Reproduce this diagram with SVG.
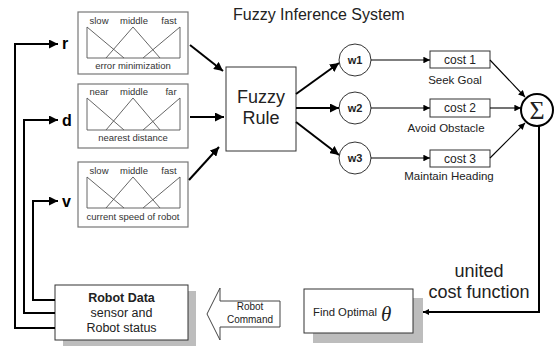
<svg xmlns="http://www.w3.org/2000/svg" width="555" height="347" viewBox="0 0 555 347">
  <defs>
    <marker id="headBig" viewBox="0 0 10 10" refX="10" refY="5" markerWidth="4.5" markerHeight="4.5" markerUnits="strokeWidth" orient="auto">
      <path d="M0,0 L10,5 L0,10 Z" fill="#000"/>
    </marker>
    <marker id="headThin" viewBox="0 0 10 10" refX="10" refY="5" markerWidth="7" markerHeight="6" markerUnits="strokeWidth" orient="auto">
      <path d="M0,0 L10,5 L0,10 Z" fill="#000"/>
    </marker>
    <marker id="headSmall" viewBox="0 0 10 10" refX="10" refY="5" markerWidth="3" markerHeight="3" markerUnits="strokeWidth" orient="auto">
      <path d="M0,0 L10,5 L0,10 Z" fill="#000"/>
    </marker>
  </defs>
  <style>
    text { font-family: "Liberation Sans", Arial, sans-serif; fill: #222; }
    .mf-box { fill: #fff; stroke: #777; stroke-width: 1.2; }
    .mf-line { fill: none; stroke: #555; stroke-width: 0.9; }
    .mf-lbl { font-size: 9.5px; fill: #333; text-anchor: middle; }
    .box { fill: #fff; stroke: #333; stroke-width: 1; }
    .shadow { fill: #bdbdbd; }
    .thick { fill: none; stroke: #000; stroke-width: 2; }
    .thin { fill: none; stroke: #000; stroke-width: 1.1; }
    .var { font-size: 16px; font-weight: bold; fill: #000; }
    .mid { text-anchor: middle; }
    .serif { font-family: "Liberation Serif", "Times New Roman", serif; }
  </style>

  <!-- title -->
  <text x="233" y="20" font-size="16">Fuzzy Inference System</text>

  <!-- membership function panels -->
  <g id="mf-error">
    <rect class="mf-box" x="78" y="12" width="110" height="62"/>
    <path class="mf-line" d="M87,27 V58 H180 V27 M87,27 L124,58 M106,58 L133,27 L160,58 M143,58 L180,27"/>
    <text class="mf-lbl" x="99" y="24">slow</text>
    <text class="mf-lbl" x="134" y="24">middle</text>
    <text class="mf-lbl" x="169" y="24">fast</text>
    <text class="mf-lbl" x="133" y="69">error minimization</text>
  </g>
  <g id="mf-distance">
    <rect class="mf-box" x="78" y="84" width="110" height="64"/>
    <path class="mf-line" d="M87,98 V130 H180 V98 M87,98 L124,130 M106,130 L133,98 L160,130 M143,130 L180,98"/>
    <text class="mf-lbl" x="99" y="95">near</text>
    <text class="mf-lbl" x="134" y="95">middle</text>
    <text class="mf-lbl" x="171" y="95">far</text>
    <text class="mf-lbl" x="133" y="141">nearest distance</text>
  </g>
  <g id="mf-speed">
    <rect class="mf-box" x="78" y="162" width="110" height="65"/>
    <path class="mf-line" d="M87,177 V208 H180 V177 M87,177 L124,208 M106,208 L133,177 L160,208 M143,208 L180,177"/>
    <text class="mf-lbl" x="99" y="174">slow</text>
    <text class="mf-lbl" x="134" y="174">middle</text>
    <text class="mf-lbl" x="169" y="174">fast</text>
    <text class="mf-lbl" x="133" y="220">current speed of robot</text>
  </g>

  <!-- input variable labels -->
  <g id="var-r"><text class="var" x="62" y="49">r</text></g>
  <g id="var-d"><text class="var" x="62" y="126">d</text></g>
  <g id="var-v"><text class="var" x="62" y="207">v</text></g>

  <!-- fuzzy rule block -->
  <g id="fuzzy-rule">
    <rect class="box" x="226" y="67" width="70" height="84"/>
    <text class="mid" x="261" y="103" font-size="18">Fuzzy</text>
    <text class="mid" x="261" y="124" font-size="18">Rule</text>
  </g>

  <!-- weights -->
  <g id="w1">
    <circle cx="355" cy="60" r="16" fill="#fff" stroke="#333" stroke-width="1"/>
    <text class="mid" x="355" y="64" font-size="11" font-weight="bold">w1</text>
  </g>
  <g id="w2">
    <circle cx="355" cy="108" r="16" fill="#fff" stroke="#333" stroke-width="1"/>
    <text class="mid" x="355" y="112" font-size="11" font-weight="bold">w2</text>
  </g>
  <g id="w3">
    <circle cx="355" cy="158" r="16" fill="#fff" stroke="#333" stroke-width="1"/>
    <text class="mid" x="355" y="162" font-size="11" font-weight="bold">w3</text>
  </g>

  <!-- cost terms -->
  <g id="cost1">
    <rect class="box" x="430" y="51" width="60" height="17"/>
    <text class="mid" x="460" y="64" font-size="12">cost 1</text>
    <text class="mid" x="455" y="84" font-size="11.5">Seek Goal</text>
  </g>
  <g id="cost2">
    <rect class="box" x="430" y="99" width="60" height="18"/>
    <text class="mid" x="460" y="112" font-size="12">cost 2</text>
    <text class="mid" x="446" y="132" font-size="11.5">Avoid Obstacle</text>
  </g>
  <g id="cost3">
    <rect class="box" x="430" y="150" width="60" height="17"/>
    <text class="mid" x="460" y="163" font-size="12">cost 3</text>
    <text class="mid" x="449" y="180" font-size="11.5">Maintain Heading</text>
  </g>

  <!-- summation -->
  <g id="sum">
    <circle cx="537" cy="110" r="16" fill="#fff" stroke="#000" stroke-width="2"/>
    <text class="mid serif" x="537" y="119" font-size="26">Σ</text>
  </g>

  <!-- robot data block -->
  <g id="robot-data">
    <rect class="shadow" x="63" y="291" width="133" height="55"/>
    <rect class="box" x="55" y="285" width="133" height="55"/>
    <text class="mid" x="121.5" y="302" font-size="12.5" font-weight="bold" fill="#000">Robot Data</text>
    <text class="mid" x="121.5" y="317" font-size="12.5">sensor and</text>
    <text class="mid" x="121.5" y="332" font-size="12.5">Robot status</text>
  </g>

  <!-- robot command block arrow -->
  <g id="robot-command">
    <path d="M207,314 L220,288 L220,301 L280,301 L280,327 L220,327 L220,340 Z" fill="#fff" stroke="#444" stroke-width="1"/>
    <text class="mid" x="250" y="310" font-size="10">Robot</text>
    <text class="mid" x="250" y="323" font-size="10">Command</text>
  </g>

  <!-- optimiser block -->
  <g id="find-optimal">
    <rect class="shadow" x="313" y="298" width="110" height="45"/>
    <rect class="box" x="304" y="289" width="109" height="44"/>
    <text x="313" y="316" font-size="11.3">Find Optimal</text>
    <text class="serif" x="381" y="321" font-size="21" font-style="italic">θ</text>
  </g>

  <!-- cost function label -->
  <text class="mid" x="479" y="277" font-size="18">united</text>
  <text class="mid" x="479" y="298" font-size="18">cost function</text>

  <!-- connectors -->
  <g id="connectors">
    <!-- feedback of robot state to the inputs -->
    <path class="thick" d="M55,328 H15 V44 H58" marker-end="url(#headBig)"/>
    <path class="thick" d="M55,313 H24 V120 H58" marker-end="url(#headBig)"/>
    <path class="thick" d="M55,300 H33 V201 H58" marker-end="url(#headBig)"/>
    <!-- fuzzified inputs into the rule base -->
    <path class="thick" d="M190,45 L223,71" marker-end="url(#headBig)"/>
    <path class="thick" d="M190,117 L224,117" marker-end="url(#headBig)"/>
    <path class="thick" d="M189,180 L219,147" marker-end="url(#headBig)"/>
    <!-- rule base to weights -->
    <path class="thick" d="M296,94 L339,63" marker-end="url(#headBig)"/>
    <path class="thick" d="M296,108 L339,108" marker-end="url(#headBig)"/>
    <path class="thick" d="M296,122 L339,155" marker-end="url(#headBig)"/>
    <!-- weights to cost terms -->
    <path class="thin" d="M371,60 H430" marker-end="url(#headThin)"/>
    <path class="thin" d="M371,108 H430" marker-end="url(#headThin)"/>
    <path class="thin" d="M371,158 H430" marker-end="url(#headThin)"/>
    <!-- cost terms to the sum -->
    <path class="thin" d="M490,60 L525,97" marker-end="url(#headThin)"/>
    <path class="thin" d="M490,108 H521" marker-end="url(#headThin)"/>
    <path class="thin" d="M490,158 L525,123" marker-end="url(#headThin)"/>
    <!-- united cost to the optimiser -->
    <path class="thick" d="M539,126 V312 H423" marker-end="url(#headSmall)"/>
  </g>
</svg>
